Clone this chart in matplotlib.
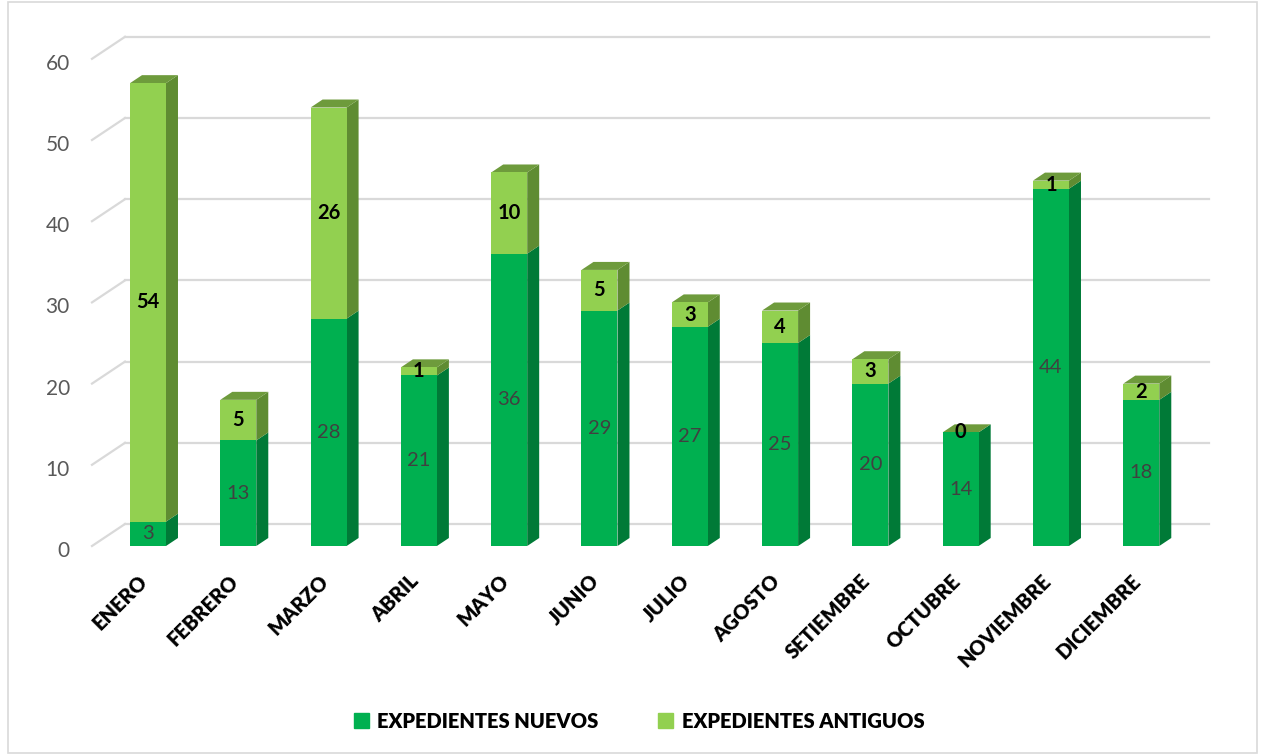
import numpy as np
import matplotlib.pyplot as plt
import matplotlib.transforms as mtransforms
from matplotlib.patches import Polygon, Patch, Rectangle

plt.rcParams['font.family'] = ['Lato', 'DejaVu Sans']

# data
meses = ['ENERO', 'FEBRERO', 'MARZO', 'ABRIL', 'MAYO', 'JUNIO', 'JULIO',
         'AGOSTO', 'SETIEMBRE', 'OCTUBRE', 'NOVIEMBRE', 'DICIEMBRE']
nuevos = [3, 13, 28, 21, 36, 29, 27, 25, 20, 14, 44, 18]
antiguos = [54, 5, 26, 1, 10, 5, 3, 4, 3, 0, 1, 2]

c_nuevo, c_nuevo_side = '#00B050', '#007A37'
c_antiguo, c_antiguo_side, c_top = '#92D050', '#5F8C32', '#6E9B3C'

W, H = 1265, 756
fig = plt.figure(figsize=(W / 100, H / 100), dpi=100)
fig.patches.append(Rectangle((0.006, 0.004), 0.988, 0.994, transform=fig.transFigure,
                             fill=False, edgecolor='#d9d9d9', lw=1.2))

px_per_y = 8.12
slot = 90.3
ymax = 62
ax = fig.add_axes([92 / W, (H - 546) / H, 12 * slot / W, ymax * px_per_y / H])
ax.set_xlim(-0.62, 11.38)
ax.set_ylim(0, ymax)
for s in ax.spines.values():
    s.set_visible(False)

# back wall offset and bar depth (in data units)
wall_dx, wall_dy = 33 / slot, 22 / px_per_y
bar_dx, bar_dy = 12 / slot, 8 / px_per_y
bw = 36 / slot

x0, x1 = ax.get_xlim()
for t in range(0, 61, 10):
    ax.plot([x0 + wall_dx, x1 + wall_dx], [t + wall_dy, t + wall_dy], color='#d9d9d9',
            lw=1.6, clip_on=False, zorder=0)
    ax.plot([x0, x0 + wall_dx], [t, t + wall_dy], color='#d9d9d9', lw=1.6,
            clip_on=False, zorder=0)

x = np.arange(len(meses))
nuevos = np.array(nuevos)
antiguos = np.array(antiguos)
ax.bar(x, nuevos, width=bw, color=c_nuevo, zorder=3)
ax.bar(x, antiguos, width=bw, bottom=nuevos, color=c_antiguo, zorder=3)

def side(xc, y0, y1, color):
    xr = xc + bw / 2
    ax.add_patch(Polygon([(xr, y0), (xr, y1), (xr + bar_dx, y1 + bar_dy),
                          (xr + bar_dx, y0 + bar_dy)], closed=True, color=color,
                         zorder=2, clip_on=False, lw=0))

for i in range(len(meses)):
    side(x[i], 0, nuevos[i], c_nuevo_side)
    if antiguos[i] > 0:
        side(x[i], nuevos[i], nuevos[i] + antiguos[i], c_antiguo_side)
    top = nuevos[i] + antiguos[i]
    xl, xr = x[i] - bw / 2, x[i] + bw / 2
    ax.add_patch(Polygon([(xl, top), (xr, top), (xr + bar_dx, top + bar_dy),
                          (xl + bar_dx, top + bar_dy)], closed=True, color=c_top,
                         zorder=2, clip_on=False, lw=0))
    ax.text(x[i], nuevos[i] / 2, str(nuevos[i]), ha='center', va='center',
            fontsize=14.5, color='#404040', zorder=4)
    ax.text(x[i], nuevos[i] + antiguos[i] / 2, str(antiguos[i]), ha='center',
            va='center', fontsize=14.5, fontweight='bold', color='black', zorder=4)

ax.set_yticks(range(0, 61, 10))
ax.tick_params(axis='y', length=0, labelsize=15, labelcolor='#595959', pad=16)
yshift = mtransforms.ScaledTranslation(0, -3 / 100, fig.dpi_scale_trans)
for lab in ax.get_yticklabels():
    lab.set_transform(lab.get_transform() + yshift)

ax.set_xticks(x)
ax.set_xticklabels(meses, rotation=45, ha='right', rotation_mode='anchor',
                   fontsize=14.5, fontweight='heavy')
ax.tick_params(axis='x', length=0, pad=18)
shift = mtransforms.ScaledTranslation(-10 / 100, 0, fig.dpi_scale_trans)
for lab in ax.get_xticklabels():
    lab.set_transform(lab.get_transform() + shift)

handles = [Patch(color=c_nuevo, label='EXPEDIENTES NUEVOS'),
           Patch(color=c_antiguo, label='EXPEDIENTES ANTIGUOS')]
fig.legend(handles=handles, loc='center', bbox_to_anchor=(0.505, 0.046), ncol=2,
           frameon=False, prop={'weight': 'heavy', 'size': 14.5}, handlelength=0.75,
           handleheight=0.75, handletextpad=0.4, columnspacing=3.0)

fig.savefig('out.png', dpi=100)
